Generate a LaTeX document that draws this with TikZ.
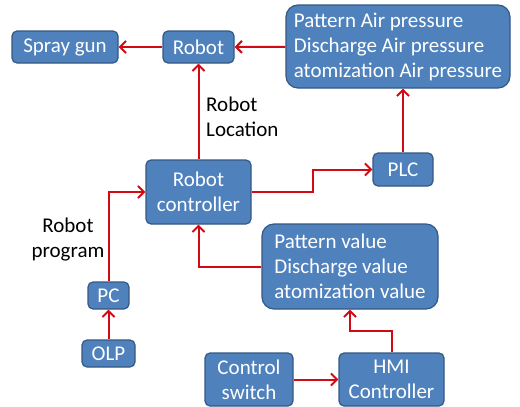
\documentclass[tikz,border=0pt]{standalone}
\usepackage{fontspec}
\setmainfont{Carlito}
\usetikzlibrary{arrows.meta}
\definecolor{boxblue}{RGB}{79,129,189}
\definecolor{boxedge}{RGB}{52,88,132}
\definecolor{linered}{RGB}{210,10,20}
\tikzset{
  >={Straight Barb[length=6pt,width=12pt]},
  b/.style={draw=boxedge,fill=boxblue,line width=1.2pt,rounded corners=5pt,text=white,align=center,inner sep=0pt,font=\fontsize{21}{25}\selectfont},
  bb/.style={b,rounded corners=12pt},
  lb/.style={font=\fontsize{21}{25}\selectfont,inner sep=0pt},
  ar/.style={->,draw=linered,line width=2pt},
}
\begin{document}
\begin{tikzpicture}[x=1pt,y=-1pt]
\useasboundingbox (0,0) rectangle (520,407);
% boxes
\node[b,minimum width=106,minimum height=32] (spray) at (65,47){Spray gun};
\node[b,minimum width=71,minimum height=32] (robot) at (198.5,47){Robot};
\node[bb,minimum width=224,minimum height=83,align=left] (air) at (398,46.5){Pattern Air pressure\\Discharge Air pressure\\atomization Air pressure};
\node[b,minimum width=105,minimum height=64] (ctrl) at (198.5,192){Robot\\controller};
\node[b,minimum width=60,minimum height=33] (plc) at (403,169.5){PLC};
\node[bb,minimum width=176,minimum height=85,align=left] (patt) at (350,266.5){Pattern value\\Discharge value\\atomization value};
\node[b,minimum width=41,minimum height=27] (pc) at (108.5,295.5){PC};
\node[b,minimum width=53,minimum height=27] (olp) at (108.5,353.5){OLP};
\node[b,minimum width=88,minimum height=53] (sw) at (249,379.5){Control\\switch};
\node[b,minimum width=105,minimum height=53] (hmi) at (391.5,379.5){HMI\\Controller};
% labels
\node[lb,align=left,anchor=west] (locl) at (206,117){Robot\\Location};
\node[lb,align=center] (progl) at (68,240){Robot\\program};
% connectors
\draw[ar] (robot) -- (spray);
\draw[ar] (air) -- (robot);
\draw[ar] (ctrl) -- (robot);
\draw[ar] (ctrl.east) -- ++(61,0) |- (plc);
\draw[ar] (plc.north) -- (plc.north |- air.south);
\draw[ar] (olp) -- (pc);
\draw[ar] (pc.north) |- (ctrl.west);
\draw[ar] (patt.west) -| (ctrl.south);
\draw[ar] (hmi.north) -- ++(0,-21) -| (patt.south);
\draw[ar] (sw) -- (hmi);
\end{tikzpicture}
\end{document}
